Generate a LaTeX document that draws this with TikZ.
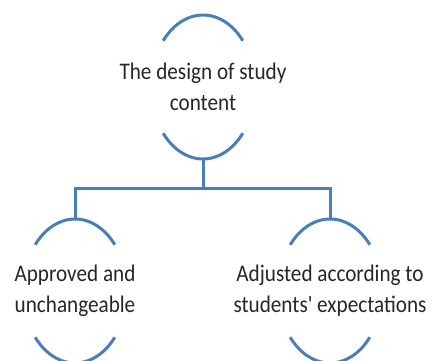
\documentclass[tikz,border=0pt]{standalone}
\usepackage{fontspec}
\setmainfont{Carlito}[FakeStretch=0.89,Ligatures=TeXOff]
\definecolor{linkblue}{HTML}{4A7EBB}
\definecolor{txt}{HTML}{262626}
\begin{document}
\begin{tikzpicture}[x=1pt,y=1pt,
  lbl/.style={align=center,text=txt,font=\fontsize{23.8}{31}\selectfont,inner sep=0pt},
  arcline/.style={draw=linkblue,line width=3pt},
  conn/.style={draw=linkblue,line width=3pt}]
\useasboundingbox (0,0) rectangle (432,361);
\node[lbl] (t) at (203,274) {The design of study\\content};
\node[lbl] (l) at (75,70) {Approved and\\unchangeable};
\node[lbl] (r) at (330,70) {Adjusted according to\\students' expectations};
\foreach \n in {t,l,r}{
  \draw[arcline] ([shift={(40:52 and 72)}]\n.center) arc[start angle=40,end angle=140,x radius=52,y radius=72];
  \draw[arcline] ([shift={(220:52 and 72)}]\n.center) arc[start angle=220,end angle=320,x radius=52,y radius=72];
}
\coordinate (ttop) at ([yshift=72pt]t.center);
\coordinate (tbot) at ([yshift=-72pt]t.center);
\coordinate (ltop) at ([yshift=72pt]l.center);
\coordinate (rtop) at ([yshift=72pt]r.center);
\coordinate (j) at ([yshift=-30pt]tbot);
\draw[conn] (tbot) -- (j);
\draw[conn] (j) -| (ltop);
\draw[conn] (j) -| (rtop);
\end{tikzpicture}
\end{document}
